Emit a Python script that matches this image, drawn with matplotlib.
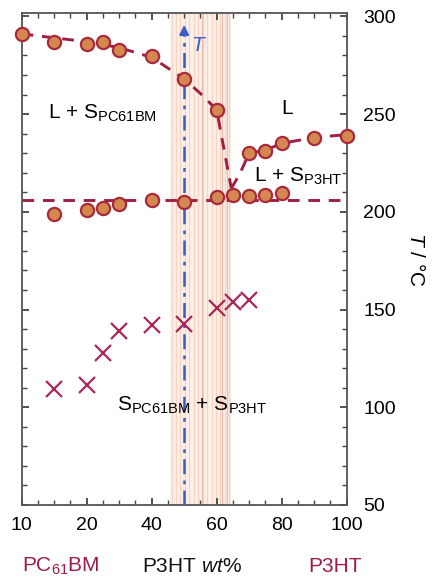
import numpy as np
import matplotlib
matplotlib.use("Agg")
import matplotlib.pyplot as plt

plt.rcParams['font.family'] = ['Liberation Sans', 'DejaVu Sans']
plt.rcParams['mathtext.fontset'] = 'custom'
plt.rcParams['mathtext.rm'] = 'Liberation Sans'
plt.rcParams['mathtext.it'] = 'Liberation Sans:italic'

# ---- data (P3HT wt%, temperature in °C) ----
liq_left_wt = [0, 10, 20, 25, 30, 40, 50, 60]
liq_left_T = [291, 287, 286, 287, 283, 279.5, 268, 252]
liq_right_wt = [70, 75, 80, 90, 100]
liq_right_T = [230, 231, 235, 238, 239]
sol_wt = [10, 20, 25, 30, 40, 50, 60, 65, 70, 75, 80]
sol_T = [199, 201, 202, 204, 205.8, 205, 207.4, 208.7, 208, 208.8, 209.7]
cross_wt = [10, 20, 25, 30, 40, 50, 60, 65, 70]
cross_T = [109.5, 111.5, 128, 139, 142, 142.7, 151, 154, 155]

curve_left_wt = [0, 10, 20, 30, 40, 50, 56, 60, 64.5]
curve_left_T = [291, 289, 287, 284, 279, 268, 259, 252, 212]
curve_right_wt = [64.5, 67, 70, 75, 80, 90, 100]
curve_right_T = [212, 219, 230, 231.5, 235, 238, 239.5]
eutectic_wt = [0, 100]
eutectic_T = [206, 206]

band_wt = [45.5, 64.5]
arrow_wt = 50

xticks = [0, 20, 40, 60, 80, 100]
xtick_labels = ['10', '20', '40', '60', '80', '100']
yticks = [50, 100, 150, 200, 250, 300]

# ---- styling ----
dash_col = '#9e1f42'
face_col = '#d4884f'
edge_col = '#a82a3c'
cross_col = '#a8285a'
blue = '#3a5cc8'
label_red = '#9e1a4a'

fig = plt.figure(figsize=(4.35, 5.77), dpi=100)
ax = fig.add_axes([0.0499, 0.1248, 0.747, 0.852])

ax.set_xlim(0, 100)
ax.set_ylim(50, 301.5)

# shaded band with faint stripes
ax.axvspan(band_wt[0], band_wt[1], color='#fcf0e8', zorder=0, lw=0)
for xs in np.linspace(band_wt[0] + 0.6, band_wt[1] - 0.6, 14):
    ax.axvline(xs, color='#f4cdb6', lw=0.9, alpha=0.75, zorder=0.5)
for xs in [55.5, 61.5, 63.2]:
    ax.axvline(xs, color='#eaa79a', lw=0.9, alpha=0.7, zorder=0.6)

# dashed curves
dkw = dict(color=dash_col, lw=2.1, dashes=(4, 3), zorder=2)
ax.plot(curve_left_wt, curve_left_T, **dkw)
ax.plot(curve_right_wt, curve_right_T, **dkw)
ax.plot(eutectic_wt, eutectic_T, **dkw)

# blue dash-dot arrow
ax.plot([arrow_wt, arrow_wt], [50, 292], color=blue, lw=1.8,
        dashes=(6, 2.5, 1.5, 2.5), zorder=3)
ax.annotate('', xy=(arrow_wt, 297), xytext=(arrow_wt, 289),
            arrowprops=dict(arrowstyle='-|>', color=blue, lw=1.5,
                            mutation_scale=14), zorder=3)
ax.text(54, 285, 'T', color=blue, fontsize=15, style='italic',
        ha='center', va='center')

# markers
mkw = dict(ls='none', marker='o', ms=9.5, mfc=face_col, mec=edge_col,
           mew=1.6, zorder=4)
ax.plot(liq_left_wt, liq_left_T, clip_on=False, **mkw)
ax.plot(liq_right_wt, liq_right_T, clip_on=False, **mkw)
ax.plot(sol_wt, sol_T, **mkw)
ax.plot(cross_wt, cross_T, ls='none', marker='x', ms=11, mew=1.6,
        color=cross_col, zorder=4)

# region labels
fs = 15
ax.text(24.7, 250.5, r'L + S$_{\mathrm{PC61BM}}$', fontsize=fs,
        ha='center', va='center')
ax.text(81.8, 253, 'L', fontsize=fs, ha='center', va='center')
ax.text(85, 218, r'L + S$_{\mathrm{P3HT}}$', fontsize=fs,
        ha='center', va='center')
ax.text(52.5, 101, r'S$_{\mathrm{PC61BM}}$ + S$_{\mathrm{P3HT}}$',
        fontsize=fs, ha='center', va='center')

# axes / ticks
for s in ax.spines.values():
    s.set_color('#555555')
    s.set_linewidth(1.3)
ax.set_xticks(xticks)
ax.set_xticklabels(xtick_labels)
ax.set_xticks(np.arange(0, 101, 5), minor=True)
ax.set_yticks(yticks)
ax.set_yticks(np.arange(50, 301, 10), minor=True)
ax.tick_params(axis='both', which='both', direction='in', color='#444444',
               top=True, bottom=True, left=True, right=True,
               labelleft=False, labelright=True, labelsize=14)
ax.tick_params(which='major', length=5, width=1.3)
ax.tick_params(which='minor', length=3.5, width=1.0)
ax.tick_params(axis='x', pad=9)
ax.tick_params(axis='y', pad=12)

ax.yaxis.set_label_position('right')
ax.set_ylabel(r'$T$ / °C', fontsize=15, rotation=270, labelpad=22)

# bottom texts
fig.text(0.139, 0.0087, r'PC$_{61}$BM', color=label_red, fontsize=15,
         ha='center', va='baseline')
fig.text(0.441, 0.0087, r'P3HT $wt\%$', color='#111111', fontsize=15,
         ha='center', va='baseline')
fig.text(0.771, 0.0087, 'P3HT', color=label_red, fontsize=15,
         ha='center', va='baseline')

fig.savefig('out.png', dpi=100)
